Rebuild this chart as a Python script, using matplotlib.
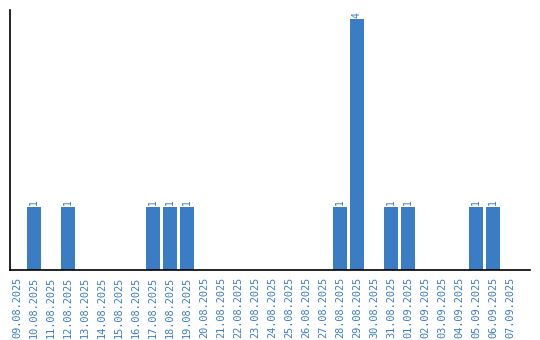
import matplotlib
matplotlib.use("Agg")
import matplotlib.pyplot as plt

dates = ["09.08.2025", "10.08.2025", "11.08.2025", "12.08.2025", "13.08.2025",
         "14.08.2025", "15.08.2025", "16.08.2025", "17.08.2025", "18.08.2025",
         "19.08.2025", "20.08.2025", "21.08.2025", "22.08.2025", "23.08.2025",
         "24.08.2025", "25.08.2025", "26.08.2025", "27.08.2025", "28.08.2025",
         "29.08.2025", "30.08.2025", "31.08.2025", "01.09.2025", "02.09.2025",
         "03.09.2025", "04.09.2025", "05.09.2025", "06.09.2025", "07.09.2025"]
counts = [0, 1, 0, 1, 0, 0, 0, 0, 1, 1,
          1, 0, 0, 0, 0, 0, 0, 0, 0, 1,
          4, 0, 1, 1, 0, 0, 0, 1, 1, 0]

blue = "#3b7dc4"

fig = plt.figure(figsize=(5.4, 3.4), dpi=100)
ax = fig.add_axes([10 / 540, 70 / 340, 520 / 540, 260 / 340])

x = list(range(len(dates)))
ax.bar(x, counts, width=0.82, color=blue)
for xi, c in zip(x, counts):
    if c > 0:
        ax.text(xi, c + 0.03, str(c), rotation=90, ha="center", va="bottom",
                color=blue, fontsize=7, family="DejaVu Sans Mono")

ax.set_xlim(-0.41, 30.18)
ax.set_ylim(0, 4.15)
ax.set_xticks(x)
ax.set_xticklabels(dates, rotation=90, color=blue, fontsize=7.4,
                   family="DejaVu Sans Mono")
ax.tick_params(axis="x", length=0, pad=5)
ax.set_yticks([])
for side in ["top", "right"]:
    ax.spines[side].set_visible(False)
ax.spines["left"].set_linewidth(1.2)
ax.spines["bottom"].set_linewidth(1.2)

fig.savefig("out.png", dpi=100)
